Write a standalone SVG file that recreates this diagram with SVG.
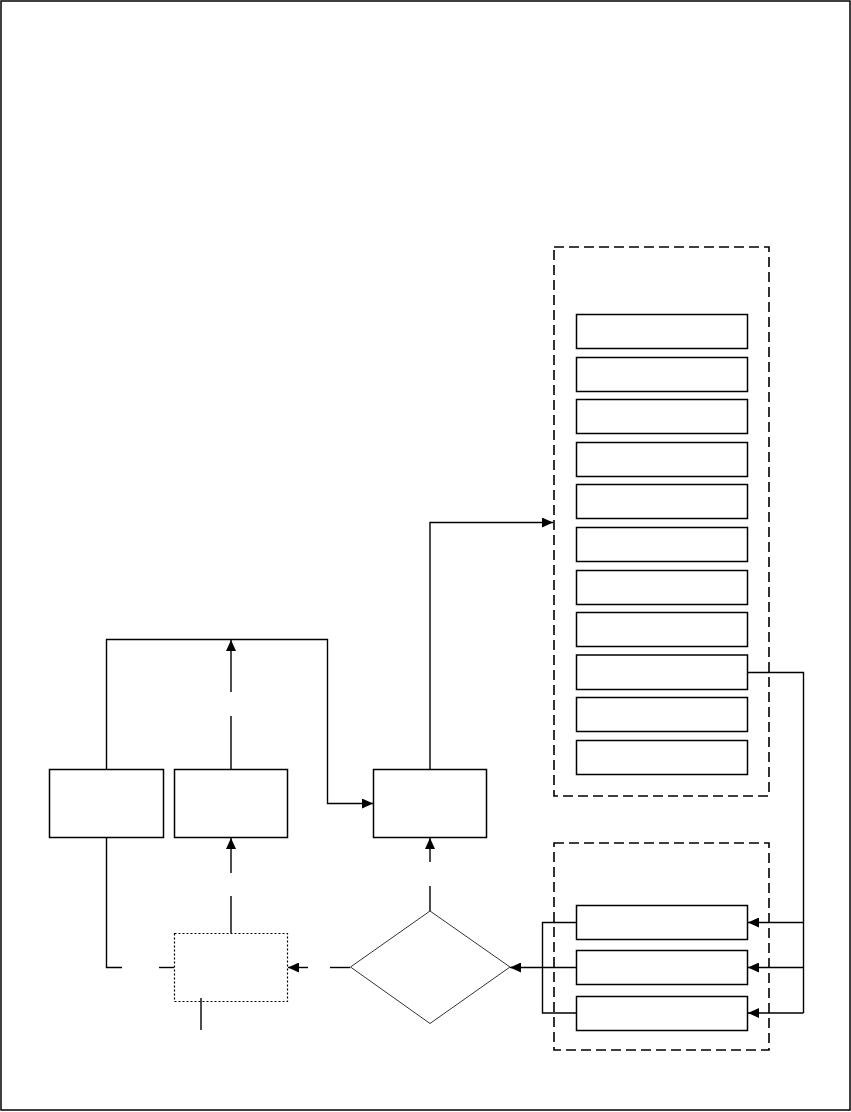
<svg xmlns="http://www.w3.org/2000/svg" width="851" height="1112" viewBox="0 0 851 1112">
<style>
.box{fill:#fff;stroke:#000;stroke-width:1.5}
.dot{fill:#fff;stroke:#000;stroke-width:1.2;stroke-dasharray:2 2}
.grp{fill:none;stroke:#000;stroke-width:1.6;stroke-dasharray:10 5}
.dia{fill:#fff;stroke:#333;stroke-width:1}
.ln{fill:none;stroke:#000;stroke-width:1.4}
</style>
<defs>
<marker id="ah" markerUnits="userSpaceOnUse" markerWidth="11" markerHeight="10" refX="11" refY="5" orient="auto">
<path d="M0,0 L11,5 L0,10 z" fill="#000"/>
</marker>
</defs>
<rect x="1" y="1" width="849" height="1109" fill="#fff" stroke="#000" stroke-width="1.5"/>
<g id="group-top"><rect class="grp" x="554" y="247" width="215" height="549"/></g>
<g id="group-bottom"><rect class="grp" x="554" y="843" width="215" height="207"/></g>
<g id="list1"><rect class="box" x="576.5" y="314.5" width="171" height="34"/></g>
<g id="list2"><rect class="box" x="576.5" y="357.5" width="171" height="34"/></g>
<g id="list3"><rect class="box" x="576.5" y="399.5" width="171" height="34"/></g>
<g id="list4"><rect class="box" x="576.5" y="442.5" width="171" height="34"/></g>
<g id="list5"><rect class="box" x="576.5" y="484.5" width="171" height="34"/></g>
<g id="list6"><rect class="box" x="576.5" y="527.5" width="171" height="34"/></g>
<g id="list7"><rect class="box" x="576.5" y="570.5" width="171" height="34"/></g>
<g id="list8"><rect class="box" x="576.5" y="612.5" width="171" height="34"/></g>
<g id="list9"><rect class="box" x="576.5" y="655" width="171" height="34.5"/></g>
<g id="list10"><rect class="box" x="576.5" y="697.5" width="171" height="34"/></g>
<g id="list11"><rect class="box" x="576.5" y="740.5" width="171" height="34"/></g>
<g id="sub1"><rect class="box" x="576.5" y="905.5" width="171" height="34"/></g>
<g id="sub2"><rect class="box" x="576.5" y="950.5" width="171" height="34"/></g>
<g id="sub3"><rect class="box" x="576.5" y="996.5" width="171" height="34"/></g>
<g id="boxL"><rect class="box" x="49.5" y="769.5" width="114" height="68"/></g>
<g id="boxK"><rect class="box" x="174.5" y="769.5" width="113" height="68"/></g>
<g id="boxM"><rect class="box" x="373.5" y="769.5" width="113" height="68"/></g>
<g id="boxDotted"><rect class="dot" x="174.5" y="933.5" width="113" height="68"/></g>
<g id="decision"><polygon class="dia" points="430,911 510,967 430,1023.5 350.5,967"/></g>
<g id="connectors">
<path class="ln" d="M430,769 V522.5 H553" marker-end="url(#ah)"/>
<path class="ln" d="M106.5,769 V639.5 H327.5 V803.5 H373" marker-end="url(#ah)"/>
<path class="ln" d="M231,769 V716"/>
<path class="ln" d="M231,692 V640" marker-end="url(#ah)"/>
<path class="ln" d="M747,672.5 H803.5 V1013"/>
<path class="ln" d="M803.5,922.5 H748" marker-end="url(#ah)"/>
<path class="ln" d="M803.5,967.5 H748" marker-end="url(#ah)"/>
<path class="ln" d="M803.5,1013 H748" marker-end="url(#ah)"/>
<path class="ln" d="M576,922.5 H542.5 V1013 H576"/>
<path class="ln" d="M576,967.5 H510" marker-end="url(#ah)"/>
<path class="ln" d="M430,911 V886"/>
<path class="ln" d="M430,862 V838" marker-end="url(#ah)"/>
<path class="ln" d="M350,967.5 H330"/>
<path class="ln" d="M308,967.5 H288" marker-end="url(#ah)"/>
<path class="ln" d="M231,933 V896"/>
<path class="ln" d="M231,873 V838" marker-end="url(#ah)"/>
<path class="ln" d="M106.5,837 V967.5 H122"/>
<path class="ln" d="M159,967.5 H174"/>
<path class="ln" d="M201,998 V1030"/>
</g>
</svg>
